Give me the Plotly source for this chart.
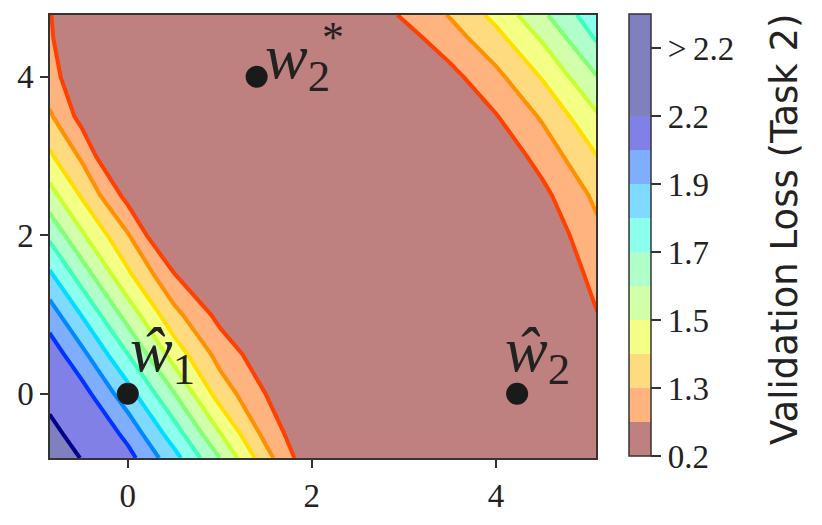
import plotly.graph_objects as go

# grid of the loss surface (task 2 validation loss)
x_grid = [-0.85, -0.5, 0.0, 0.5, 1.0, 1.5, 2.0, 2.5, 3.0, 3.5, 4.0, 4.5, 5.1]
y_grid = [-0.81, -0.5, 0.0, 0.5, 1.0, 1.5, 2.0, 2.5, 3.0, 3.5, 4.0, 4.5, 4.78]
loss = [
    [2.300, 2.194, 2.035, 1.836, 1.600, 1.336, 1.117, 0.900, 0.680, 0.650, 0.780, 0.910, 1.060],
    [2.244, 2.135, 1.968, 1.749, 1.504, 1.268, 1.097, 0.926, 0.755, 0.677, 0.805, 0.932, 1.085],
    [2.153, 2.041, 1.841, 1.606, 1.357, 1.199, 1.061, 0.924, 0.786, 0.715, 0.843, 0.970, 1.123],
    [2.058, 1.927, 1.700, 1.458, 1.263, 1.135, 1.007, 0.880, 0.750, 0.751, 0.879, 1.006, 1.159],
    [1.950, 1.795, 1.559, 1.331, 1.169, 1.014, 0.860, 0.700, 0.662, 0.790, 0.917, 1.044, 1.197],
    [1.817, 1.654, 1.420, 1.209, 0.980, 0.750, 0.520, 0.570, 0.700, 0.830, 0.955, 1.083, 1.236],
    [1.679, 1.515, 1.309, 1.043, 0.773, 0.500, 0.494, 0.620, 0.746, 0.872, 0.998, 1.124, 1.275],
    [1.539, 1.391, 1.167, 0.904, 0.640, 0.420, 0.544, 0.670, 0.795, 0.921, 1.046, 1.172, 1.323],
    [1.416, 1.284, 1.010, 0.730, 0.460, 0.566, 0.678, 0.790, 0.900, 1.013, 1.125, 1.237, 1.400],
    [1.315, 1.166, 0.946, 0.730, 0.510, 0.616, 0.732, 0.847, 0.963, 1.078, 1.194, 1.312, 1.488],
    [1.234, 1.135, 0.993, 0.850, 0.710, 0.740, 0.852, 0.958, 1.063, 1.169, 1.274, 1.407, 1.598],
    [1.207, 1.144, 1.053, 0.960, 0.870, 0.877, 0.972, 1.067, 1.162, 1.257, 1.371, 1.513, 1.715],
    [1.203, 1.152, 1.079, 1.006, 0.933, 0.935, 1.028, 1.120, 1.213, 1.307, 1.429, 1.579, 1.770],
]

levels = [1.2, 1.3, 1.4, 1.5, 1.6, 1.7, 1.8, 1.9, 2.0, 2.2]
line_colors = ['#ff4000', '#ff9000', '#ffde00', '#c7ff30', '#82ff75',
               '#3effb9', '#00ddff', '#0088ff', '#0033ff', '#00008b']
# fill colours (jet_r at half alpha on white): below 1.2, between levels, above 2.2
band_colors = ['#bf8080', '#ffb37f', '#ffdb80', '#f4ff86', '#d2ffa9', '#b0ffcb',
               '#8dffed', '#80d9ff', '#80aeff', '#8080e6', '#8080bf']

cbar_bands = band_colors + ['#8080bf', '#8080bf']
cbar_tickpos = [0, 2, 4, 6, 8, 10, 12]
cbar_ticktext = ['0.2', '1.3', '1.5', '1.7', '1.9', '2.2', '>\u20092.2']

pt_x = [0.0, 1.4, 4.23]
pt_y = [0.0, 4.0, 0.0]

serif = 'Liberation Serif'
ink = '#222222'

# uniform 0.1 steps for the filled trace, each step coloured by its real band
step = 0.1
n_steps = int(round((levels[-1] - levels[0]) / step))
fill_cols = []
for k in range(n_steps + 2):
    mid = levels[0] - step / 2 + k * step
    fill_cols.append(band_colors[sum(1 for lv in levels if lv < mid)])
fill_scale = [[k / (len(fill_cols) - 1), c] for k, c in enumerate(fill_cols)]

fig = go.Figure()
fig.add_trace(go.Contour(
    x=x_grid, y=y_grid, z=loss,
    contours=dict(start=levels[0], end=levels[-1], size=step,
                  coloring='fill', showlines=False),
    colorscale=fill_scale, showscale=False,
    line=dict(width=0), hoverinfo='skip',
))

for lv, col in zip(levels, line_colors):
    fig.add_trace(go.Contour(
        x=x_grid, y=y_grid, z=loss,
        contours=dict(start=lv, end=lv, size=1, coloring='none'),
        line=dict(color=col, width=4, smoothing=0),
        showscale=False, hoverinfo='skip',
    ))

fig.add_trace(go.Scatter(
    x=pt_x, y=pt_y, mode='markers',
    marker=dict(size=22, color='#1a1a1a'),
    showlegend=False, hoverinfo='skip',
))

# colorbar drawn from a stepped scale on an empty marker trace
nb = len(cbar_bands)
cb_scale = []
for k, c in enumerate(cbar_bands):
    cb_scale.append([k / nb, c])
    cb_scale.append([(k + 1) / nb, c])
fig.add_trace(go.Scatter(
    x=[None], y=[None], mode='markers', showlegend=False,
    marker=dict(
        color=[0], colorscale=cb_scale, cmin=0, cmax=nb, showscale=True,
        colorbar=dict(
            x=1.0604, xanchor='left', xpad=0,
            y=0.503, yanchor='middle', ypad=0,
            len=442, lenmode='pixels', thickness=22,
            outlinewidth=1.5, outlinecolor='#333333',
            ticks='outside', ticklen=10, tickwidth=1.5, tickcolor='#333333',
            tickvals=cbar_tickpos, ticktext=cbar_ticktext,
            tickfont=dict(family=serif, size=33, color=ink),
        ),
    ),
))

# colorbar title as a rotated annotation so it sits where the reference has it
fig.add_annotation(x=1.346, y=0.517, xref='paper', yref='paper',
                   text='Validation Loss (Task 2)', textangle=-90, showarrow=False,
                   xanchor='center', yanchor='middle',
                   font=dict(family='DejaVu Sans', size=37, color=ink))

fig.add_annotation(x=0.0, y=0.5, text='<i>ŵ</i><sub>1</sub>', showarrow=False,
                   xanchor='left', yanchor='middle',
                   font=dict(family=serif, size=64, color=ink))
fig.add_annotation(x=1.47, y=4.2, text='<i>w</i><sub>2</sub>', showarrow=False,
                   xanchor='left', yanchor='middle',
                   font=dict(family=serif, size=64, color=ink))
fig.add_annotation(x=2.23, y=4.49, text='*', showarrow=False,
                   xanchor='center', yanchor='middle',
                   font=dict(family=serif, size=44, color=ink))
fig.add_annotation(x=4.08, y=0.5, text='<i>ŵ</i><sub>2</sub>', showarrow=False,
                   xanchor='left', yanchor='middle',
                   font=dict(family=serif, size=64, color=ink))

axis_style = dict(
    showline=True, mirror=True, linecolor='#333333', linewidth=1.5,
    ticks='outside', ticklen=8, tickwidth=1.5, tickcolor='#333333',
    showgrid=False, zeroline=False, automargin=False,
    tickfont=dict(family=serif, size=33, color=ink),
)
# the page body adds 8px, so the figure is 8px smaller than the window
fig.update_layout(
    width=814, height=517,
    margin=dict(l=42, r=226, t=7, b=67, autoexpand=False),
    plot_bgcolor='white', paper_bgcolor='white',
    showlegend=False,
    xaxis=dict(range=[-0.845, 5.087], tickvals=[0, 2, 4], **axis_style),
    yaxis=dict(range=[-0.81, 4.78], tickvals=[0, 2, 4], **axis_style),
)

fig.write_html("out.html")
